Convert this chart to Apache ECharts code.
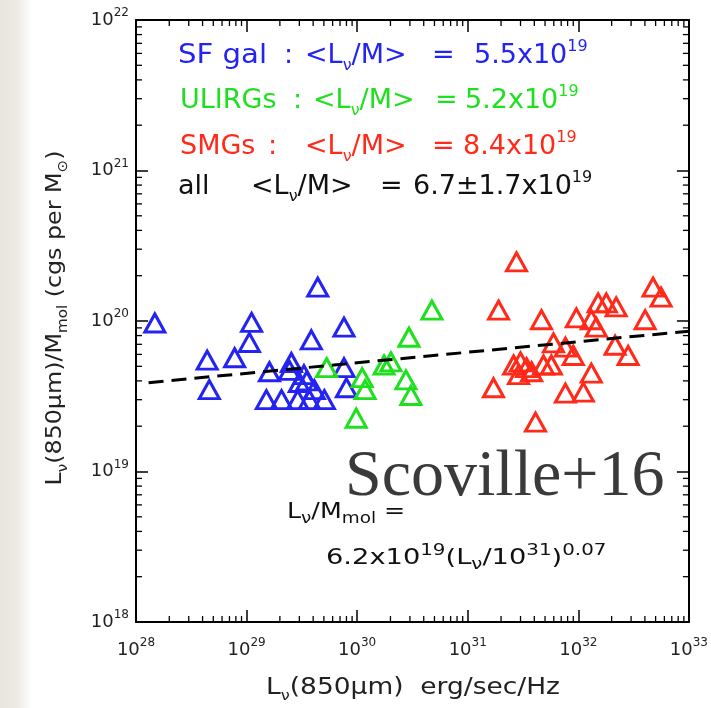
<!DOCTYPE html>
<html>
<head>
<meta charset="utf-8">
<script src="https://cdn.jsdelivr.net/npm/echarts@6/dist/echarts.min.js"></script>
<style>
html, body { margin: 0; padding: 0; background: #fff; }
#chart { width: 711px; height: 708px; }
</style>
</head>
<body>
<div id="chart"></div>
<script>
// 850um luminosity (erg/s/Hz) and luminosity-to-gas-mass ratio per sample
const sfLum = [1.48e28, 4.4e28, 4.6e28, 7.8e28, 1.11e29, 1.06e29, 1.61e29, 1.51e29, 2.07e29, 2.44e29,
  2.54e29, 3.0e29, 3.3e29, 2.9e29, 3.7e29, 3.85e29, 4.4e29, 7.6e29, 7.6e29, 8.0e29, 5.05e29, 4.1e29, 3.5e29];
const sfRatio = [9.7e19, 5.5e19, 3.5e19, 5.7e19, 9.8e19, 7.2e19, 4.6e19, 3.0e19, 3.0e19, 4.7e19,
  5.3e19, 3.9e19, 4.4e19, 3.0e19, 3.0e19, 7.5e19, 1.68e20, 9.1e19, 4.9e19, 3.6e19, 3.0e19, 3.5e19, 4.0e19];

const ulirgLum = [5.3e29, 9.8e29, 1.11e30, 1.18e30, 1.75e30, 2.02e30, 2.76e30, 2.94e30, 3.06e30, 4.74e30];
const ulirgRatio = [4.9e19, 2.26e19, 4.2e19, 3.5e19, 5.1e19, 5.35e19, 4.06e19, 7.8e19, 3.2e19, 1.18e20];

const smgLum = [1.9e31, 2.76e31, 4.64e31, 9.6e31, 1.31e32, 1.51e32, 1.79e32, 2.2e32, 1.45e32, 4.74e32,
  5.6e32, 4.02e32, 5.96e31, 7.64e31, 9.0e31, 2.15e32, 2.82e32, 1.31e32, 1.11e32, 7.64e31,
  1.71e31, 4.1e31, 2.6e31, 3.0e31, 3.4e31, 2.88e31, 3.78e31, 4.84e31, 5.7e31];
const smgRatio = [1.18e20, 2.47e20, 1.02e20, 1.05e20, 1.02e20, 1.32e20, 1.32e20, 1.24e20, 9.1e19, 1.68e20,
  1.44e20, 1.02e20, 7.15e19, 6.7e19, 5.9e19, 6.9e19, 5.9e19, 4.5e19, 3.37e19, 3.32e19,
  3.6e19, 2.13e19, 5.1e19, 5.35e19, 4.9e19, 4.4e19, 4.6e19, 5.1e19, 5.1e19];

// power-law fit:  L/M = norm * (L / pivot)^slope
const fitNorm = 6.2e19;
const fitPivot = 1e31;
const fitSlope = 0.07;
const fitLumRange = [1.3e28, 1e33];

// sample means printed in the key
const groupNames = ['SF gal', 'ULIRGs', 'SMGs', 'all'];
const groupMeans = ['5.5', '5.2', '8.4', '6.7\u00b11.7'];
const groupExp = ['19', '19', '19', '19'];

// axis decades
const xDecades = [28, 33];
const yDecades = [18, 22];

const BLUE = '#2323f2';
const GREEN = '#1fe01f';
const RED = '#ff2a1a';
const groupColors = [BLUE, GREEN, RED, '#111'];
const SANS = '"DejaVu Sans", sans-serif';

const xMin = Math.pow(10, xDecades[0]), xMax = Math.pow(10, xDecades[1]);
const yMin = Math.pow(10, yDecades[0]), yMax = Math.pow(10, yDecades[1]);

function pairs(a, b) { return a.map((v, i) => [v, b[i]]); }
function fit(l) { return fitNorm * Math.pow(l / fitPivot, fitSlope); }

// minor ticks at 2..9 x 10^n
function minorValues(d0, d1) {
  const out = [];
  for (let d = d0; d < d1; d++) for (let m = 2; m <= 9; m++) out.push(m * Math.pow(10, d));
  return out;
}
const MINOR = 6, MAJOR = 12;

function tickLine(x1, y1, x2, y2) {
  return { type: 'line', shape: { x1, y1, x2, y2 }, style: { stroke: '#000', lineWidth: 1.3 } };
}

// rich-text styles for sub/superscripts
function richSet(base, small, color) {
  return {
    b: { fontSize: base, lineHeight: base + 8, fontFamily: SANS, fill: color, color: color },
    sub: { fontSize: small, lineHeight: small, verticalAlign: 'bottom', fontFamily: SANS, fill: color, color: color },
    sup: { fontSize: small, lineHeight: small, verticalAlign: 'top', fontFamily: SANS, fill: color, color: color }
  };
}

const tickLabel = {
  formatter: v => '{b|10}{sup|' + Math.round(Math.log10(v)) + '}',
  rich: richSet(18, 12, '#222'),
  showMinLabel: true, showMaxLabel: true, hideOverlap: false
};

function axisBase(extra) {
  return Object.assign({
    type: 'log', logBase: 10,
    axisLine: { show: true, onZero: false, lineStyle: { color: '#000', width: 2 } },
    axisTick: { show: true, inside: true, length: MAJOR, lineStyle: { color: '#000', width: 1.5 } },
    splitLine: { show: false },
    minorTick: { show: false }
  }, extra);
}

// key layout: left edges of name, colon, mean expression, '=' and value
const keyRows = [
  { y: 56, x: [178, 284, 305, 432, 474] },
  { y: 101, x: [180, 293, 313, 435, 465] },
  { y: 147, x: [180, 268, 305, 432, 463] },
  { y: 187, x: [178, null, 251, 380, 413] }
];

const graphics = [];
// soft grey margin on the left edge
graphics.push({
  type: 'rect', left: 0, top: 0, shape: { width: 32, height: 708 }, silent: true, z: -10,
  style: {
    fill: new echarts.graphic.LinearGradient(0, 0, 1, 0, [
      { offset: 0, color: '#e8e5df' }, { offset: 0.55, color: '#eeebe6' }, { offset: 1, color: '#ffffff' }
    ])
  }
});

function txt(x, y, text, rich, opts, extra) {
  return Object.assign({
    type: 'text', x: x, y: y, silent: true, z: 50,
    style: Object.assign({ text: text, rich: rich, textVerticalAlign: 'middle', textAlign: 'left' }, opts || {})
  }, extra || {});
}

keyRows.forEach((row, i) => {
  const c = groupColors[i];
  const r = richSet(27, 16, c);
  const pieces = [
    '{b|' + groupNames[i] + '}',
    row.x[1] === null ? null : '{b|:}',
    '{b|<L}{sub|\u03bd}{b|/M>}',
    '{b|=}',
    '{b|' + groupMeans[i] + 'x10}{sup|' + groupExp[i] + '}'
  ];
  pieces.forEach((p, k) => {
    if (p !== null) graphics.push(txt(row.x[k], row.y, p, r, null, (k === 0 && i === 0) ? { scaleX: 1.08 } : null));
  });
});

// fit formula
const fr = richSet(22, 16, '#111');
graphics.push(txt(287, 512, '{b|L}{sub|\u03bd}{b|/M}{sub|mol}{b| =}', fr, null, { scaleX: 1.15 }));
graphics.push(txt(326, 558, '{b|' + fitNorm.toExponential(1).split('e')[0] + 'x10}{sup|19}{b|(L}{sub|\u03bd}{b|/10}{sup|31}{b|)}{sup|' + fitSlope.toFixed(2) + '}', fr, null, { scaleX: 1.24 }));

// citation
graphics.push(txt(345, 478, 'Scoville+16', null, {
  font: '66px "Liberation Serif", serif', fill: '#3a3a3a'
}));

// axis titles
const tr = richSet(23, 14, '#222');
graphics.push(txt(413, 688, '{b|L}{sub|\u03bd}{b|(850\u03bcm)  erg/sec/Hz}', tr, { textAlign: 'center' }, { scaleX: 1.15 }));
const yr = richSet(22, 14, '#222');
graphics.push({
  type: 'text', x: 55, y: 318, rotation: Math.PI / 2, scaleX: 1.08, silent: true, z: 50,
  style: {
    text: '{b|L}{sub|\u03bd}{b|(850\u03bcm)/M}{sub|mol}{b| (cgs per M}{sub|\u2299}{b|)}',
    rich: yr, textAlign: 'center', textVerticalAlign: 'middle'
  }
});

const scatterStyle = c => ({
  type: 'scatter', symbol: 'triangle', symbolSize: [20, 18],
  itemStyle: { color: 'rgba(255,255,255,0)', borderColor: c, borderWidth: 3, opacity: 1 },
  emphasis: { disabled: true }, silent: true, z: 5
});

const option = {
  animation: false,
  backgroundColor: '#ffffff',
  grid: { left: 136, right: 20, top: 20, bottom: 86, containLabel: false },
  xAxis: [
    axisBase({ min: xMin, max: xMax, splitNumber: 5, position: 'bottom',
      axisLabel: Object.assign({ margin: 15 }, tickLabel) }),
    axisBase({ min: xMin, max: xMax, splitNumber: 5, position: 'top', axisLabel: { show: false } })
  ],
  yAxis: [
    axisBase({ min: yMin, max: yMax, splitNumber: 4, position: 'left',
      axisLabel: Object.assign({ margin: 7 }, tickLabel) }),
    axisBase({ min: yMin, max: yMax, splitNumber: 4, position: 'right', axisLabel: { show: false } })
  ],
  graphic: graphics,
  series: [
    Object.assign(scatterStyle(BLUE), { name: 'SF gal', data: pairs(sfLum, sfRatio) }),
    Object.assign(scatterStyle(GREEN), { name: 'ULIRGs', data: pairs(ulirgLum, ulirgRatio) }),
    Object.assign(scatterStyle(RED), { name: 'SMGs', data: pairs(smgLum, smgRatio) }),
    {
      name: 'fit', type: 'line', showSymbol: false, symbol: 'none', silent: true, z: 6,
      data: fitLumRange.map(l => [l, fit(l)]),
      lineStyle: { color: '#000', width: 3, type: [15, 8] }
    },
    {
      type: 'custom', silent: true, z: 3,
      data: minorValues(xDecades[0], xDecades[1]).map(v => [v, yMin]),
      renderItem: (params, api) => {
        const v = api.value(0);
        const b = api.coord([v, yMin]);
        const t = api.coord([v, yMax]);
        return { type: 'group', children: [
          tickLine(b[0], b[1], b[0], b[1] - MINOR),
          tickLine(t[0], t[1], t[0], t[1] + MINOR)
        ] };
      }
    },
    {
      type: 'custom', silent: true, z: 3,
      data: minorValues(yDecades[0], yDecades[1]).map(v => [xMin, v]),
      renderItem: (params, api) => {
        const v = api.value(1);
        const l = api.coord([xMin, v]);
        const r = api.coord([xMax, v]);
        return { type: 'group', children: [
          tickLine(l[0], l[1], l[0] + MINOR, l[1]),
          tickLine(r[0], r[1], r[0] - MINOR, r[1])
        ] };
      }
    }
  ]
};

const chart = echarts.init(document.getElementById('chart'), null, { renderer: 'canvas' });
chart.setOption(option);
</script>
</body>
</html>
